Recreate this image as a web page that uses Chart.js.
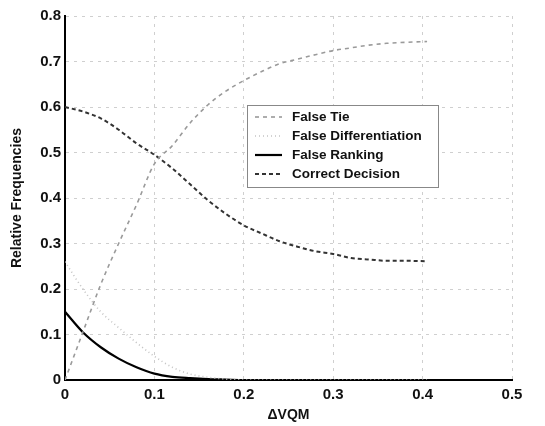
<!DOCTYPE html>
<html>
<head>
<meta charset="utf-8">
<script src="https://cdn.jsdelivr.net/npm/chart.js@4.4.0/dist/chart.umd.min.js"></script>
<style>
  body { margin: 0; background: #fff; }
  canvas { display: block; }
</style>
</head>
<body>
<canvas id="chart" width="545" height="426"></canvas>
<script>
const dvqm = [0, 0.02, 0.04, 0.06, 0.08, 0.1, 0.12, 0.14, 0.16, 0.18, 0.2, 0.22, 0.24, 0.26, 0.28, 0.3, 0.32, 0.34, 0.36, 0.38, 0.405];

const falseTie = [0, 0.105, 0.21, 0.30, 0.385, 0.475, 0.515, 0.565, 0.605, 0.635, 0.658, 0.678, 0.695, 0.705, 0.715, 0.724, 0.73, 0.736, 0.74, 0.742, 0.744];
const falseDiff = [0.26, 0.2, 0.15, 0.115, 0.082, 0.052, 0.028, 0.013, 0.006, 0.002, 0, 0, 0, 0, 0, 0, 0, 0, 0, 0, 0];
const falseRanking = [0.15, 0.105, 0.072, 0.047, 0.028, 0.014, 0.007, 0.004, 0.002, 0.001, 0, 0, 0, 0, 0, 0, 0, 0, 0, 0, 0];
const correctDecision = [0.6, 0.59, 0.575, 0.55, 0.52, 0.495, 0.465, 0.43, 0.395, 0.365, 0.34, 0.322, 0.305, 0.293, 0.283, 0.277, 0.268, 0.265, 0.262, 0.262, 0.261];

const seriesNames = ['False Tie', 'False Differentiation', 'False Ranking', 'Correct Decision'];

function pts(ys) {
    return dvqm.map((x, i) => ({ x: x, y: ys[i] }));
}

// legend drawn inside the plot like the matlab one
const boxLegend = {
    id: 'boxLegend',
    afterDatasetsDraw(chart) {
        const ctx = chart.ctx;
        const x0 = 247, y0 = 105, w = 191, h = 82;
        ctx.save();
        ctx.fillStyle = '#fff';
        ctx.fillRect(x0, y0, w, h);
        ctx.strokeStyle = '#888';
        ctx.lineWidth = 1;
        ctx.setLineDash([]);
        ctx.strokeRect(x0 + 0.5, y0 + 0.5, w, h);
        ctx.font = 'bold 13.5px "Liberation Sans", Arial, sans-serif';
        ctx.textBaseline = 'middle';
        chart.data.datasets.forEach((ds, i) => {
            const y = y0 + 12 + i * 19;
            ctx.strokeStyle = ds.borderColor;
            ctx.lineWidth = ds.borderWidth;
            ctx.setLineDash(ds.borderDash || []);
            ctx.beginPath();
            ctx.moveTo(x0 + 8, y);
            ctx.lineTo(x0 + 35, y);
            ctx.stroke();
            ctx.fillStyle = '#111';
            ctx.fillText(ds.label, x0 + 45, y);
        });
        ctx.restore();
    }
};

const tickFont = { family: '"Liberation Sans", Arial, sans-serif', size: 15, weight: 'bold' };
const titleFont = { family: '"Liberation Sans", Arial, sans-serif', size: 14, weight: 'bold' };
const gridLook = { color: '#cfcfcf', drawTicks: false };

var chart = new Chart('chart', {
    type: 'line',
    data: {
        datasets: [{
            label: seriesNames[0],
            data: pts(falseTie),
            borderColor: '#9a9a9a',
            borderWidth: 1.6,
            borderDash: [4, 4]
        }, {
            label: seriesNames[1],
            data: pts(falseDiff),
            borderColor: '#c4c4c4',
            borderWidth: 1.6,
            borderDash: [1, 3]
        }, {
            label: seriesNames[2],
            data: pts(falseRanking),
            borderColor: '#000',
            borderWidth: 2.2
        }, {
            label: seriesNames[3],
            data: pts(correctDecision),
            borderColor: '#333',
            borderWidth: 2,
            borderDash: [4, 3]
        }]
    },
    options: {
        responsive: false,
        animation: false,
        elements: {
            point: { radius: 0 },
            line: { cubicInterpolationMode: 'monotone' }
        },
        layout: { padding: { top: 16, right: 33, left: 0, bottom: 0 } },
        scales: {
            x: {
                type: 'linear',
                min: 0,
                max: 0.5,
                ticks: {
                    stepSize: 0.1,
                    color: '#111',
                    font: tickFont,
                    padding: 6,
                    maxRotation: 0,
                    callback: v => v === 0 ? '0' : v.toFixed(1)
                },
                grid: gridLook,
                border: { color: '#000', width: 2, dash: [3, 5] },
                title: { display: true, text: 'ΔVQM', color: '#111', font: titleFont, padding: 2 },
                afterFit: s => { s.height = 46; }
            },
            y: {
                min: 0,
                max: 0.8,
                ticks: {
                    stepSize: 0.1,
                    color: '#111',
                    font: tickFont,
                    padding: 4,
                    callback: v => v === 0 ? '0' : v.toFixed(1)
                },
                grid: gridLook,
                border: { color: '#000', width: 2, dash: [3, 5] },
                title: { display: true, text: 'Relative Frequencies', color: '#111', font: titleFont, padding: { top: 9, bottom: 0 } },
                afterFit: s => { s.width = 65; }
            }
        },
        plugins: {
            legend: { display: false },
            tooltip: { enabled: false }
        }
    },
    plugins: [boxLegend]
});
</script>
</body>
</html>
